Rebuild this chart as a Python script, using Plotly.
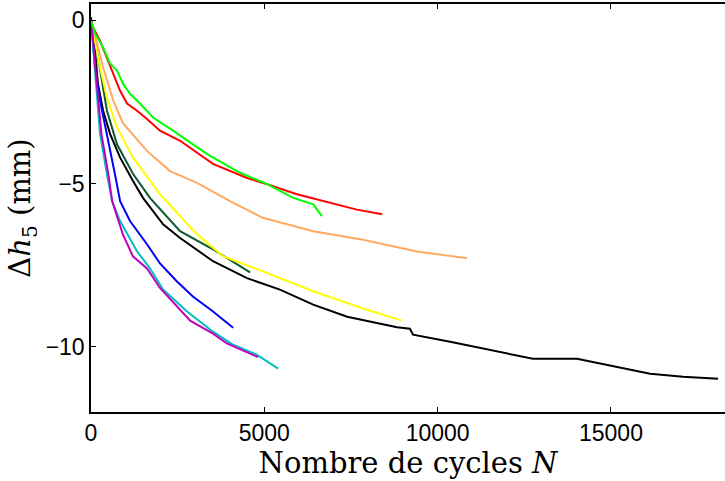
import plotly.graph_objects as go

# Cycles N and settlement Δh5 (mm)
black_x = [0, 115, 200, 350, 550, 837, 1212, 1500, 2080, 2570, 3520, 4500, 5450, 6410, 7390, 8830, 9200, 9290, 10360, 11800, 12750, 14020, 15170, 16130, 17080, 18090]
black_y = [0, -0.92, -1.94, -2.77, -3.48, -4.20, -4.92, -5.44, -6.25, -6.67, -7.38, -7.90, -8.25, -8.71, -9.08, -9.40, -9.45, -9.63, -9.85, -10.15, -10.37, -10.37, -10.62, -10.83, -10.92, -10.98]

dkgreen_x = [0, 170, 460, 750, 1210, 1700, 2570, 3520, 4590]
dkgreen_y = [0, -0.92, -2.77, -3.80, -4.70, -5.44, -6.46, -7.02, -7.72]

yellow_x = [0, 260, 460, 750, 1210, 1990, 3060, 3810, 4960, 6410, 7850, 8970]
yellow_y = [0, -1.44, -2.37, -3.28, -4.20, -5.33, -6.56, -7.23, -7.69, -8.30, -8.83, -9.20]

orange_x = [0, 350, 640, 920, 1615, 2280, 3060, 4010, 4960, 6410, 7850, 9400, 10850]
orange_y = [0, -1.44, -2.45, -3.15, -4.00, -4.62, -4.98, -5.54, -6.05, -6.46, -6.72, -7.08, -7.29]

blue_x = [0, 115, 260, 460, 690, 840, 1125, 1615, 1990, 2480, 2940, 3520, 4100]
blue_y = [0.1, -1.44, -2.46, -3.48, -4.71, -5.54, -6.15, -6.86, -7.45, -8.00, -8.46, -8.92, -9.42]

cyan_x = [0, 170, 260, 460, 610, 840, 1330, 1700, 2080, 2770, 3520, 4100, 4790, 5400]
cyan_y = [0, -2.46, -3.48, -4.71, -5.54, -6.15, -7.08, -7.60, -8.25, -8.92, -9.54, -9.94, -10.25, -10.67]

magenta_x = [0, 200, 300, 500, 610, 920, 1210, 1615, 1990, 2860, 3520, 3920, 4820]
magenta_y = [0, -2.46, -3.48, -4.71, -5.54, -6.56, -7.23, -7.60, -8.20, -9.20, -9.60, -9.90, -10.32]

red_x = [0, 58, 260, 460, 635, 837, 1039, 1327, 1616, 1990, 2570, 3520, 4500, 5080, 5940, 6900, 7670, 8400]
red_y = [0, -0.22, -0.62, -1.14, -1.63, -2.15, -2.55, -2.77, -3.02, -3.38, -3.69, -4.40, -4.83, -5.02, -5.33, -5.60, -5.80, -5.94]

green_x = [0, 115, 350, 548, 750, 923, 1125, 1414, 1790, 2366, 3350, 4300, 5080, 5830, 6410, 6660]
green_y = [0, -0.40, -0.83, -1.32, -1.54, -1.94, -2.25, -2.55, -2.98, -3.38, -4.10, -4.67, -5.02, -5.44, -5.64, -6.00]

series = [
    (black_x, black_y, "#000000"),
    (dkgreen_x, dkgreen_y, "#0b5a2f"),
    (yellow_x, yellow_y, "#ffff00"),
    (orange_x, orange_y, "#ffaa60"),
    (blue_x, blue_y, "#0000ff"),
    (cyan_x, cyan_y, "#00bfbf"),
    (magenta_x, magenta_y, "#bf00bf"),
    (red_x, red_y, "#ff0000"),
    (green_x, green_y, "#00ff00"),
]

fig = go.Figure()
for xs, ys, c in series:
    fig.add_trace(go.Scatter(x=xs, y=ys, mode="lines", line=dict(color=c, width=2), showlegend=False))

fig.update_layout(
    width=725, height=481,
    margin=dict(l=91, r=0, t=4, b=69),
    plot_bgcolor="white", paper_bgcolor="white",
    font=dict(family="Liberation Sans, Arial", size=23, color="black"),
)
fig.update_xaxes(
    range=[0, 18290], tickvals=[0, 5000, 10000, 15000], ticktext=["0", "5000", "10000", "15000"],
    showgrid=False, zeroline=False, showline=True, linecolor="black", linewidth=1.5,
    mirror="ticks", ticks="inside", ticklen=5, tickcolor="black",
    title=dict(text="Nombre de cycles <i>N</i>", font=dict(family="DejaVu Serif", size=29), standoff=0),
)
fig.update_yaxes(
    range=[-12, 0.5], tickvals=[0, -5, -10], ticktext=["0", "\u22125", "\u221210"],
    showgrid=False, zeroline=False, showline=True, linecolor="black", linewidth=1.5,
    mirror=False, ticks="inside", ticklen=5, tickcolor="black",
    title=dict(text="\u0394<i>h</i><sub>5</sub> (mm)", font=dict(family="DejaVu Serif", size=29), standoff=6),
)
fig.write_html("out.html")
